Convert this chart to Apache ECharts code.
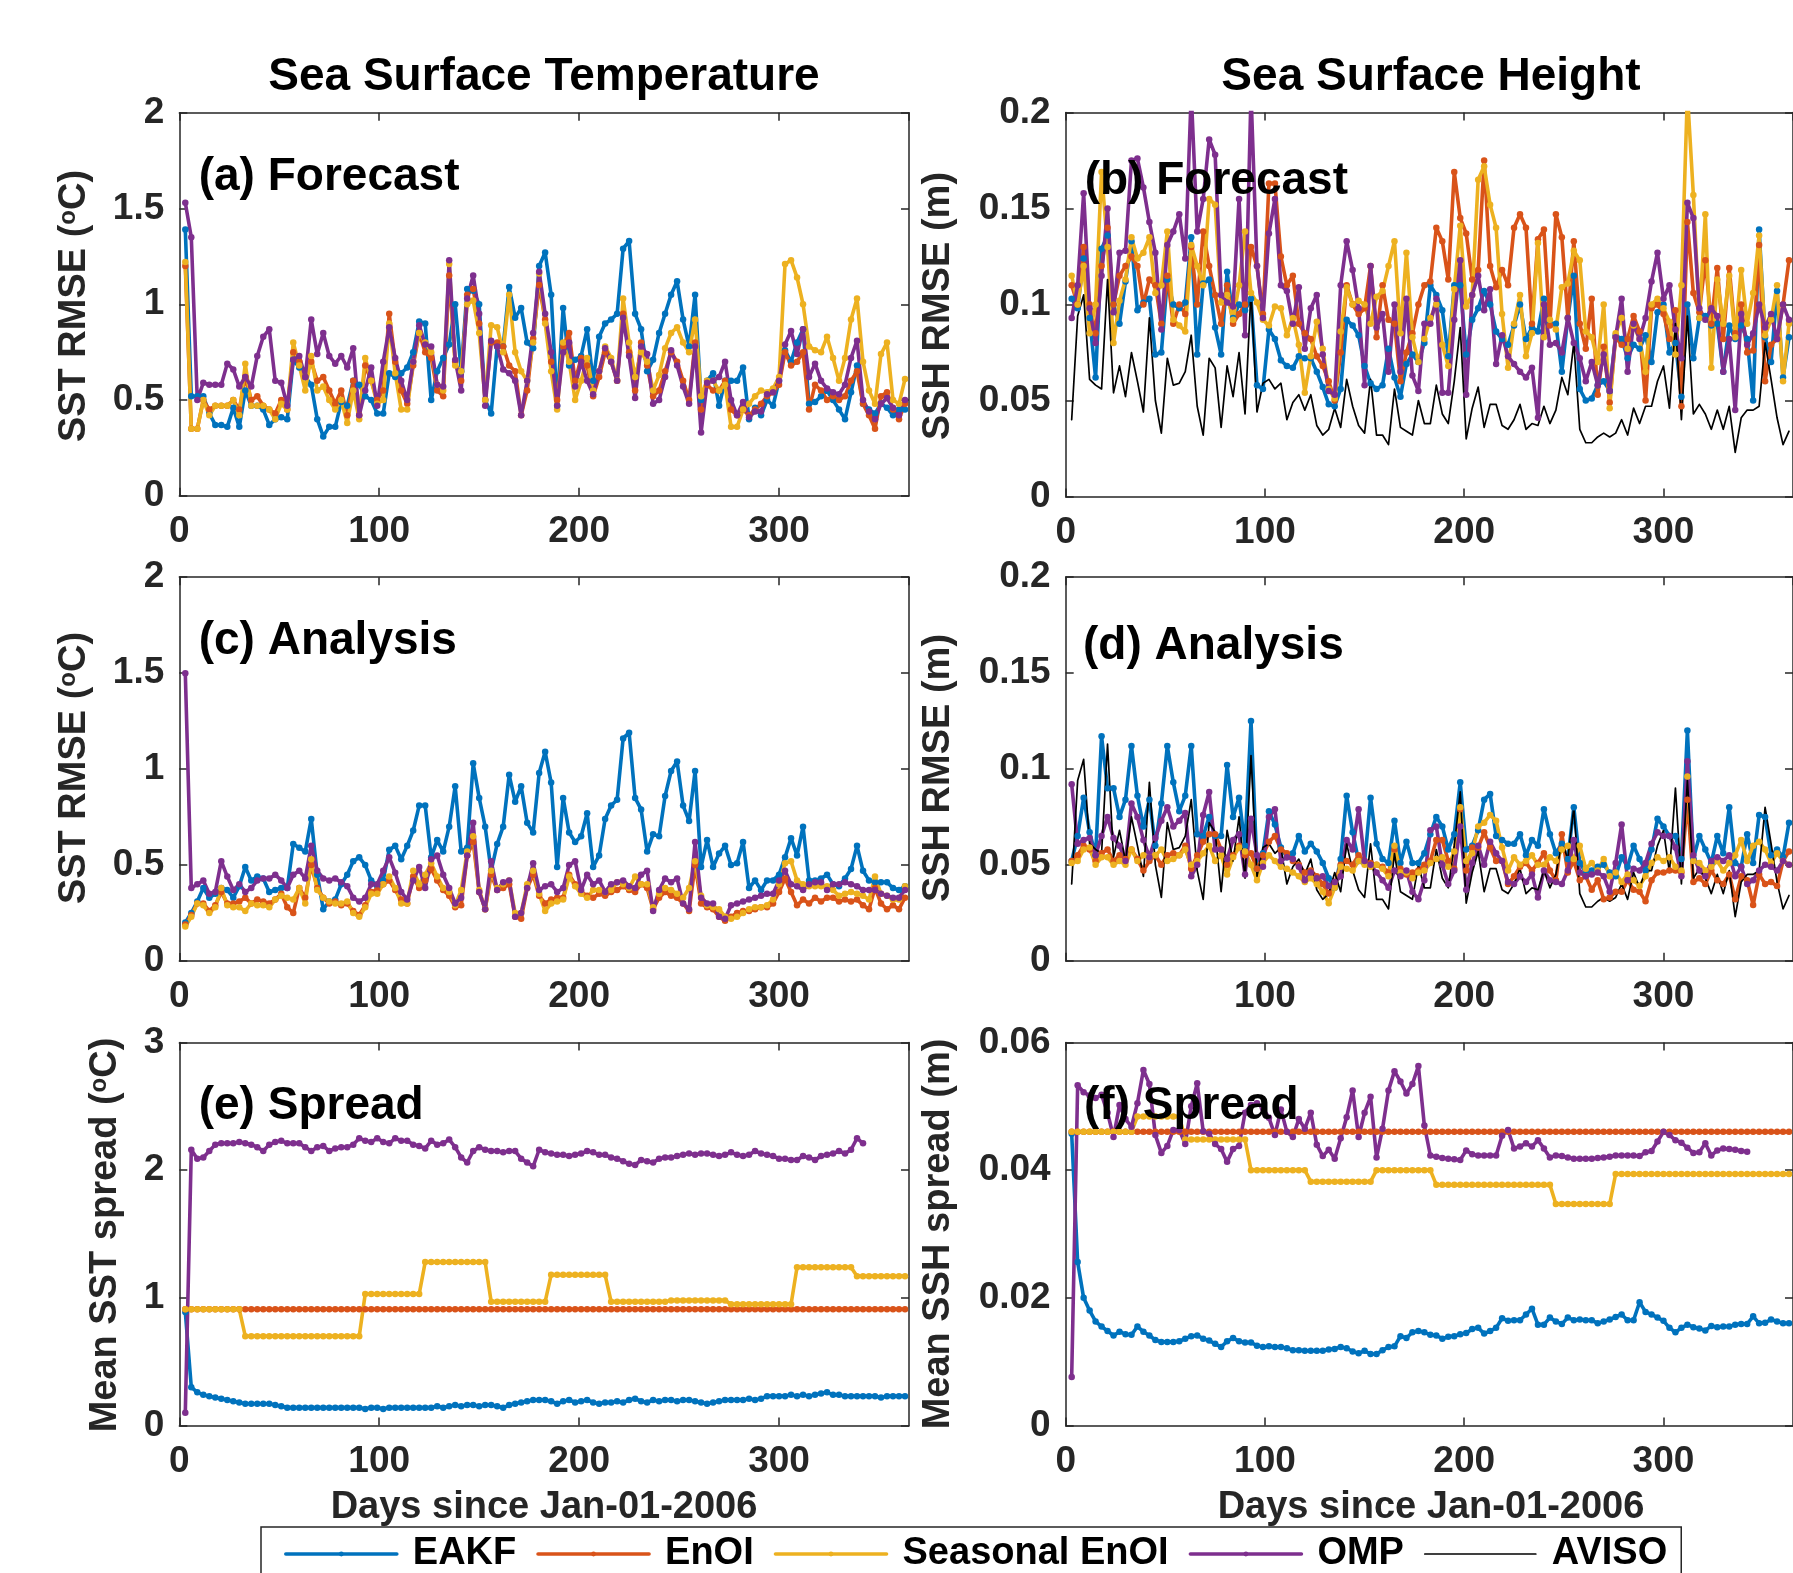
<!DOCTYPE html>
<html><head><meta charset="utf-8">
<script src="https://cdn.jsdelivr.net/npm/echarts@6.0.0/dist/echarts.min.js"></script>
<style>html,body{margin:0;padding:0;background:#fff}#c{width:1793px;height:1573px}</style>
</head><body><div id="c"></div>
<script>
// ---------------- DATA ----------------
const days = [3,6,9,12,15,18,21,24,27,30,33,36,39,42,45,48,51,54,57,60,
63,66,69,72,75,78,81,84,87,90,93,96,99,102,105,108,111,114,117,120,
123,126,129,132,135,138,141,144,147,150,153,156,159,162,165,168,171,174,177,180,
183,186,189,192,195,198,201,204,207,210,213,216,219,222,225,228,231,234,237,240,
243,246,249,252,255,258,261,264,267,270,273,276,279,282,285,288,291,294,297,300,
303,306,309,312,315,318,321,324,327,330,333,336,339,342,345,348,351,354,357,360,
363];
const seriesNames = ['EAKF','EnOI','Seasonal EnOI','OMP','AVISO'];

// (a) SST forecast RMSE
const a_eakf = [1.39,0.52,0.52,0.52,0.43,0.37,0.37,0.36,0.46,0.36,0.55,0.47,0.47,0.45,0.37,0.40,0.41,0.40,0.71,0.67,
0.62,0.58,0.40,0.31,0.36,0.36,0.49,0.47,0.60,0.58,0.52,0.50,0.43,0.43,0.64,0.62,0.64,0.67,0.75,0.91,
0.90,0.50,0.65,0.72,0.79,1.00,0.65,1.08,1.07,1.00,0.50,0.43,0.78,0.78,1.09,0.93,0.98,0.80,0.77,1.20,
1.27,1.05,0.47,0.98,0.68,0.71,0.73,0.87,0.60,0.83,0.90,0.92,0.95,1.29,1.33,0.95,0.87,0.65,0.71,0.85,
0.95,1.05,1.12,0.92,0.78,1.05,0.50,0.60,0.64,0.47,0.60,0.60,0.60,0.67,0.40,0.46,0.42,0.50,0.47,0.60,
0.76,0.70,0.80,0.87,0.48,0.49,0.52,0.55,0.50,0.45,0.40,0.54,0.68,0.48,0.45,0.43,0.48,0.46,0.42,0.45,
0.45];
const a_enoi = [1.20,0.35,0.35,0.50,0.45,0.47,0.47,0.47,0.50,0.45,0.62,0.50,0.52,0.47,0.45,0.43,0.50,0.45,0.75,0.70,
0.62,0.70,0.60,0.62,0.55,0.48,0.55,0.42,0.60,0.42,0.68,0.60,0.50,0.55,0.95,0.70,0.55,0.48,0.68,0.85,
0.75,0.72,0.55,0.52,1.15,0.70,0.60,1.05,1.08,0.90,0.50,0.80,0.80,0.78,0.68,0.65,0.42,0.55,0.82,1.10,
0.92,0.70,0.50,0.78,0.85,0.60,0.72,0.68,0.52,0.62,0.75,0.70,0.60,0.95,0.75,0.55,0.80,0.68,0.52,0.55,
0.65,0.75,0.70,0.60,0.50,0.80,0.45,0.58,0.55,0.55,0.60,0.45,0.42,0.45,0.42,0.45,0.48,0.52,0.54,0.58,
0.75,0.68,0.70,0.75,0.45,0.58,0.55,0.50,0.52,0.50,0.52,0.60,0.65,0.48,0.42,0.35,0.52,0.54,0.45,0.40,
0.48];
const a_seas = [1.22,0.35,0.35,0.50,0.42,0.47,0.47,0.47,0.50,0.42,0.69,0.47,0.47,0.47,0.45,0.40,0.48,0.45,0.80,0.68,
0.55,0.73,0.55,0.57,0.50,0.45,0.50,0.38,0.55,0.40,0.72,0.60,0.48,0.50,0.90,0.64,0.45,0.45,0.70,0.85,
0.80,0.75,0.58,0.55,1.21,0.68,0.65,1.00,1.02,0.85,0.50,0.89,0.88,0.75,1.05,0.75,0.65,0.60,0.80,1.16,
0.90,0.65,0.45,0.80,0.70,0.50,0.60,0.72,0.55,0.65,0.78,0.72,0.60,1.03,0.80,0.62,0.75,0.70,0.55,0.63,
0.77,0.85,0.88,0.80,0.75,0.92,0.52,0.60,0.60,0.55,0.58,0.36,0.36,0.45,0.48,0.52,0.55,0.54,0.56,0.62,
1.21,1.23,1.14,1.00,0.78,0.76,0.75,0.83,0.72,0.60,0.72,0.92,1.03,0.70,0.55,0.48,0.74,0.80,0.50,0.48,
0.61];
const a_omp = [1.53,1.35,0.50,0.59,0.58,0.58,0.58,0.69,0.66,0.57,0.62,0.57,0.73,0.83,0.87,0.60,0.59,0.47,0.71,0.73,
0.62,0.92,0.74,0.85,0.73,0.69,0.73,0.67,0.77,0.42,0.55,0.67,0.47,0.70,0.88,0.72,0.60,0.50,0.70,0.89,
0.79,0.78,0.58,0.57,1.23,0.71,0.55,1.03,1.15,0.95,0.47,0.81,0.78,0.66,0.64,0.60,0.42,0.60,0.85,1.17,
0.95,0.75,0.47,0.75,0.80,0.57,0.70,0.60,0.53,0.65,0.77,0.70,0.60,0.93,0.73,0.51,0.78,0.74,0.48,0.50,
0.62,0.76,0.68,0.57,0.48,0.78,0.33,0.59,0.60,0.62,0.70,0.50,0.42,0.49,0.41,0.44,0.44,0.53,0.54,0.60,
0.79,0.86,0.74,0.87,0.62,0.69,0.60,0.56,0.54,0.53,0.58,0.72,0.81,0.50,0.44,0.40,0.48,0.51,0.46,0.42,
0.50];

// (c) SST analysis RMSE
const c_eakf = [0.20,0.25,0.31,0.38,0.33,0.35,0.38,0.37,0.33,0.39,0.49,0.42,0.44,0.43,0.36,0.37,0.38,0.38,0.61,0.59,
0.57,0.74,0.45,0.27,0.31,0.32,0.40,0.45,0.52,0.54,0.50,0.42,0.39,0.42,0.58,0.60,0.53,0.60,0.68,0.81,
0.81,0.54,0.63,0.57,0.70,0.91,0.57,0.59,1.03,0.85,0.70,0.47,0.61,0.70,0.97,0.83,0.91,0.72,0.67,0.98,
1.09,0.93,0.49,0.85,0.67,0.62,0.65,0.77,0.49,0.55,0.74,0.81,0.84,1.16,1.19,0.85,0.79,0.57,0.66,0.65,
0.86,0.99,1.04,0.81,0.73,0.99,0.49,0.63,0.49,0.56,0.60,0.50,0.51,0.62,0.38,0.42,0.37,0.42,0.42,0.45,
0.54,0.64,0.55,0.70,0.42,0.42,0.43,0.45,0.40,0.39,0.43,0.48,0.60,0.47,0.42,0.41,0.41,0.41,0.38,0.37,
0.39];
const c_enoi = [0.19,0.24,0.30,0.30,0.26,0.29,0.36,0.30,0.30,0.31,0.33,0.30,0.32,0.31,0.30,0.32,0.35,0.28,0.25,0.38,
0.33,0.50,0.38,0.33,0.30,0.31,0.29,0.30,0.26,0.24,0.29,0.36,0.37,0.40,0.42,0.37,0.32,0.30,0.44,0.38,
0.42,0.48,0.42,0.37,0.34,0.28,0.29,0.55,0.62,0.36,0.27,0.45,0.37,0.38,0.40,0.23,0.22,0.38,0.45,0.34,
0.30,0.32,0.33,0.33,0.45,0.40,0.36,0.34,0.33,0.35,0.34,0.36,0.37,0.39,0.37,0.36,0.40,0.38,0.27,0.33,
0.36,0.34,0.33,0.30,0.26,0.50,0.30,0.28,0.27,0.23,0.21,0.23,0.25,0.26,0.26,0.27,0.28,0.28,0.30,0.36,
0.43,0.36,0.29,0.32,0.30,0.33,0.31,0.33,0.33,0.31,0.32,0.31,0.32,0.29,0.27,0.38,0.30,0.27,0.29,0.27,
0.33];
const c_seas = [0.18,0.23,0.30,0.29,0.25,0.28,0.38,0.29,0.28,0.28,0.26,0.30,0.29,0.29,0.28,0.32,0.34,0.33,0.32,0.38,
0.30,0.53,0.37,0.33,0.31,0.30,0.30,0.31,0.25,0.23,0.28,0.35,0.35,0.40,0.44,0.38,0.30,0.30,0.47,0.40,
0.45,0.51,0.44,0.38,0.36,0.29,0.37,0.57,0.65,0.37,0.27,0.47,0.38,0.40,0.42,0.25,0.25,0.40,0.47,0.35,
0.26,0.30,0.31,0.32,0.44,0.39,0.35,0.33,0.37,0.37,0.36,0.37,0.41,0.40,0.38,0.44,0.40,0.40,0.28,0.35,
0.38,0.37,0.35,0.33,0.38,0.52,0.34,0.29,0.28,0.27,0.23,0.22,0.23,0.25,0.27,0.28,0.28,0.29,0.32,0.40,
0.51,0.52,0.42,0.40,0.39,0.39,0.39,0.39,0.37,0.34,0.35,0.36,0.35,0.34,0.32,0.44,0.35,0.34,0.32,0.32,
0.39];
const c_omp = [1.50,0.38,0.40,0.42,0.35,0.36,0.52,0.44,0.37,0.40,0.36,0.38,0.42,0.43,0.43,0.45,0.42,0.38,0.45,0.47,
0.43,0.60,0.47,0.43,0.42,0.43,0.41,0.39,0.33,0.31,0.33,0.40,0.40,0.47,0.54,0.46,0.36,0.32,0.42,0.49,
0.38,0.53,0.55,0.45,0.38,0.30,0.33,0.55,0.72,0.36,0.27,0.52,0.37,0.41,0.42,0.23,0.25,0.38,0.51,0.37,
0.39,0.40,0.36,0.38,0.50,0.52,0.37,0.45,0.40,0.42,0.36,0.40,0.41,0.42,0.39,0.38,0.45,0.47,0.26,0.37,
0.43,0.41,0.43,0.30,0.27,0.62,0.33,0.30,0.30,0.23,0.22,0.29,0.30,0.31,0.32,0.33,0.34,0.35,0.35,0.42,
0.47,0.40,0.39,0.37,0.40,0.41,0.41,0.37,0.40,0.40,0.41,0.40,0.39,0.37,0.37,0.37,0.35,0.34,0.33,0.33,
0.37];

// (b) SSH forecast RMSE
const b_eakf = [0.103,0.098,0.124,0.093,0.062,0.129,0.136,0.100,0.090,0.112,0.133,0.097,0.101,0.103,0.074,0.075,0.113,0.100,0.098,0.101,
0.135,0.074,0.111,0.113,0.088,0.074,0.117,0.093,0.100,0.097,0.103,0.058,0.056,0.087,0.082,0.071,0.068,0.067,0.073,0.072,
0.072,0.065,0.057,0.048,0.047,0.056,0.092,0.089,0.084,0.068,0.059,0.056,0.058,0.077,0.062,0.052,0.069,0.074,0.070,0.080,
0.110,0.105,0.097,0.073,0.110,0.110,0.074,0.092,0.098,0.107,0.100,0.086,0.082,0.079,0.089,0.100,0.082,0.088,0.086,0.103,
0.090,0.090,0.065,0.093,0.115,0.056,0.050,0.051,0.058,0.060,0.055,0.084,0.082,0.072,0.079,0.077,0.084,0.070,0.096,0.100,
0.075,0.080,0.052,0.100,0.072,0.093,0.094,0.089,0.090,0.065,0.089,0.082,0.089,0.082,0.050,0.139,0.083,0.070,0.107,0.062,
0.083];
const b_enoi = [0.110,0.100,0.130,0.100,0.085,0.120,0.140,0.100,0.115,0.120,0.125,0.120,0.100,0.113,0.110,0.090,0.115,0.090,0.100,0.095,
0.130,0.100,0.138,0.120,0.105,0.090,0.110,0.090,0.095,0.100,0.130,0.120,0.095,0.163,0.163,0.125,0.110,0.115,0.090,0.085,
0.082,0.073,0.068,0.060,0.050,0.075,0.110,0.100,0.095,0.098,0.120,0.083,0.110,0.092,0.090,0.060,0.075,0.085,0.100,0.110,
0.112,0.140,0.133,0.113,0.169,0.145,0.137,0.113,0.118,0.175,0.120,0.109,0.118,0.110,0.140,0.147,0.140,0.090,0.134,0.139,
0.089,0.147,0.135,0.093,0.133,0.090,0.077,0.103,0.053,0.078,0.049,0.083,0.079,0.082,0.094,0.086,0.050,0.098,0.100,0.095,
0.082,0.097,0.047,0.143,0.106,0.096,0.123,0.090,0.119,0.082,0.119,0.085,0.100,0.075,0.076,0.131,0.060,0.079,0.082,0.100,
0.123];
const b_seas = [0.115,0.100,0.120,0.085,0.100,0.169,0.130,0.080,0.102,0.113,0.135,0.124,0.127,0.135,0.106,0.110,0.138,0.092,0.089,0.086,
0.131,0.120,0.110,0.155,0.152,0.101,0.105,0.092,0.110,0.138,0.106,0.101,0.092,0.089,0.099,0.098,0.084,0.093,0.079,0.054,
0.073,0.091,0.077,0.056,0.051,0.086,0.109,0.100,0.102,0.100,0.090,0.104,0.107,0.120,0.133,0.085,0.127,0.083,0.070,0.082,
0.093,0.100,0.079,0.068,0.108,0.141,0.099,0.105,0.165,0.172,0.152,0.140,0.095,0.067,0.090,0.105,0.073,0.085,0.132,0.083,
0.092,0.087,0.109,0.111,0.128,0.123,0.086,0.083,0.070,0.100,0.046,0.085,0.093,0.077,0.089,0.082,0.065,0.100,0.103,0.098,
0.091,0.074,0.110,0.210,0.157,0.093,0.147,0.067,0.113,0.090,0.115,0.083,0.118,0.090,0.106,0.136,0.084,0.092,0.110,0.060,
0.090];
const b_omp = [0.093,0.110,0.158,0.098,0.080,0.115,0.150,0.096,0.127,0.128,0.175,0.176,0.161,0.143,0.127,0.087,0.131,0.138,0.147,0.124,
0.210,0.138,0.155,0.186,0.178,0.105,0.101,0.099,0.155,0.084,0.210,0.120,0.093,0.137,0.155,0.110,0.107,0.090,0.109,0.077,
0.098,0.105,0.074,0.055,0.053,0.110,0.133,0.118,0.098,0.058,0.120,0.088,0.095,0.065,0.100,0.065,0.103,0.063,0.055,0.090,
0.090,0.103,0.054,0.054,0.092,0.123,0.053,0.105,0.115,0.097,0.108,0.069,0.084,0.073,0.069,0.065,0.062,0.067,0.041,0.100,
0.079,0.080,0.075,0.093,0.080,0.072,0.060,0.070,0.058,0.074,0.055,0.083,0.103,0.065,0.090,0.082,0.093,0.112,0.127,0.103,
0.110,0.087,0.072,0.153,0.145,0.098,0.092,0.098,0.094,0.065,0.082,0.045,0.095,0.079,0.085,0.100,0.088,0.095,0.082,0.100,
0.092];
// AVISO error (same in b and d)
const aviso = [0.040,0.094,0.105,0.061,0.058,0.056,0.113,0.054,0.068,0.052,0.075,0.060,0.044,0.093,0.050,0.033,0.072,0.058,0.059,0.065,
0.084,0.047,0.032,0.072,0.067,0.036,0.068,0.052,0.075,0.043,0.107,0.044,0.059,0.061,0.056,0.059,0.040,0.049,0.053,0.045,
0.053,0.037,0.032,0.035,0.046,0.036,0.061,0.047,0.037,0.033,0.061,0.032,0.032,0.027,0.056,0.036,0.034,0.032,0.050,0.038,
0.038,0.058,0.043,0.038,0.060,0.088,0.030,0.046,0.057,0.036,0.048,0.048,0.037,0.035,0.040,0.048,0.035,0.038,0.037,0.047,
0.038,0.045,0.062,0.053,0.080,0.035,0.028,0.028,0.031,0.033,0.031,0.033,0.040,0.032,0.046,0.038,0.047,0.047,0.060,0.068,
0.046,0.090,0.040,0.094,0.043,0.048,0.043,0.035,0.045,0.035,0.047,0.023,0.041,0.045,0.045,0.047,0.080,0.061,0.041,0.027,
0.034];

// (d) SSH analysis RMSE
const d_eakf = [0.052,0.065,0.085,0.067,0.055,0.117,0.090,0.090,0.075,0.084,0.112,0.086,0.070,0.084,0.060,0.082,0.112,0.093,0.078,0.086,
0.112,0.066,0.065,0.075,0.065,0.065,0.102,0.075,0.085,0.060,0.125,0.048,0.056,0.078,0.071,0.059,0.054,0.056,0.065,0.057,
0.061,0.057,0.051,0.043,0.038,0.053,0.086,0.067,0.052,0.051,0.085,0.061,0.053,0.051,0.073,0.051,0.062,0.051,0.051,0.056,
0.066,0.075,0.070,0.058,0.066,0.093,0.058,0.060,0.068,0.084,0.087,0.065,0.063,0.061,0.061,0.066,0.055,0.063,0.060,0.079,
0.066,0.056,0.061,0.053,0.080,0.051,0.046,0.047,0.049,0.050,0.046,0.044,0.054,0.049,0.060,0.053,0.047,0.058,0.074,0.070,
0.065,0.065,0.053,0.120,0.053,0.065,0.058,0.051,0.065,0.056,0.080,0.051,0.049,0.066,0.051,0.076,0.075,0.055,0.058,0.054,
0.072];
const d_enoi = [0.052,0.055,0.060,0.058,0.052,0.056,0.058,0.052,0.055,0.053,0.058,0.053,0.047,0.052,0.055,0.050,0.055,0.056,0.055,0.060,
0.048,0.055,0.062,0.066,0.066,0.058,0.050,0.055,0.060,0.055,0.056,0.048,0.055,0.062,0.065,0.058,0.056,0.052,0.050,0.046,
0.047,0.044,0.040,0.035,0.040,0.050,0.052,0.050,0.055,0.052,0.051,0.050,0.049,0.046,0.058,0.048,0.045,0.046,0.047,0.050,
0.052,0.063,0.063,0.052,0.048,0.079,0.047,0.059,0.059,0.067,0.059,0.052,0.052,0.040,0.044,0.049,0.051,0.047,0.051,0.056,
0.047,0.042,0.066,0.046,0.052,0.042,0.044,0.037,0.042,0.032,0.033,0.036,0.036,0.042,0.037,0.036,0.031,0.042,0.046,0.046,
0.047,0.047,0.046,0.084,0.041,0.043,0.040,0.047,0.042,0.040,0.045,0.032,0.044,0.042,0.029,0.045,0.040,0.041,0.039,0.052,
0.057];
const d_seas = [0.051,0.052,0.058,0.059,0.050,0.054,0.054,0.050,0.052,0.050,0.058,0.052,0.055,0.054,0.055,0.058,0.052,0.053,0.055,0.058,
0.050,0.052,0.056,0.060,0.052,0.055,0.045,0.054,0.059,0.057,0.050,0.042,0.051,0.055,0.052,0.049,0.048,0.046,0.044,0.041,
0.043,0.040,0.036,0.030,0.038,0.049,0.048,0.047,0.052,0.050,0.049,0.050,0.048,0.044,0.060,0.046,0.046,0.043,0.046,0.047,
0.051,0.053,0.054,0.049,0.057,0.080,0.052,0.056,0.070,0.072,0.076,0.073,0.059,0.047,0.054,0.050,0.052,0.055,0.050,0.050,
0.054,0.052,0.058,0.060,0.053,0.060,0.048,0.051,0.047,0.053,0.044,0.046,0.041,0.045,0.042,0.039,0.044,0.051,0.054,0.052,
0.054,0.049,0.047,0.096,0.052,0.051,0.047,0.049,0.052,0.047,0.051,0.055,0.063,0.052,0.060,0.062,0.058,0.051,0.056,0.052,
0.050];
const d_omp = [0.092,0.061,0.063,0.064,0.055,0.065,0.075,0.064,0.060,0.052,0.082,0.075,0.063,0.054,0.064,0.073,0.080,0.070,0.073,0.077,
0.044,0.050,0.076,0.088,0.058,0.058,0.053,0.063,0.066,0.045,0.074,0.055,0.049,0.075,0.079,0.052,0.054,0.053,0.049,0.042,
0.046,0.043,0.044,0.039,0.041,0.044,0.063,0.058,0.079,0.052,0.050,0.046,0.042,0.038,0.047,0.044,0.047,0.036,0.032,0.042,
0.068,0.070,0.050,0.040,0.047,0.070,0.037,0.051,0.060,0.050,0.062,0.056,0.052,0.041,0.040,0.044,0.041,0.045,0.033,0.047,
0.042,0.041,0.040,0.047,0.063,0.046,0.044,0.045,0.046,0.044,0.036,0.051,0.071,0.042,0.048,0.047,0.051,0.061,0.067,0.065,
0.065,0.059,0.044,0.104,0.055,0.047,0.044,0.052,0.054,0.052,0.055,0.044,0.049,0.040,0.042,0.047,0.050,0.049,0.047,0.052,
0.050];

// (e) mean SST spread
const e_eakf = [0.89,0.30,0.26,0.24,0.23,0.22,0.21,0.20,0.19,0.18,0.17,0.17,0.17,0.17,0.17,0.16,0.15,0.14,0.14,0.14,
0.14,0.14,0.14,0.14,0.14,0.14,0.14,0.14,0.14,0.14,0.13,0.14,0.14,0.13,0.14,0.14,0.14,0.14,0.14,0.14,
0.14,0.14,0.15,0.14,0.15,0.16,0.15,0.16,0.16,0.15,0.16,0.16,0.15,0.14,0.16,0.17,0.18,0.19,0.20,0.20,
0.20,0.19,0.17,0.19,0.20,0.18,0.19,0.20,0.18,0.17,0.18,0.18,0.19,0.18,0.20,0.21,0.19,0.18,0.20,0.19,
0.20,0.20,0.19,0.20,0.20,0.19,0.18,0.17,0.18,0.19,0.20,0.20,0.20,0.20,0.21,0.20,0.21,0.23,0.23,0.23,
0.23,0.24,0.23,0.24,0.23,0.24,0.25,0.26,0.24,0.24,0.23,0.23,0.23,0.23,0.23,0.23,0.22,0.23,0.23,0.23,
0.23];
const e_enoi = [0.91,0.91,0.91,0.91,0.91,0.91,0.91,0.91,0.91,0.91,0.91,0.91,0.91,0.91,0.91,0.91,0.91,0.91,0.91,0.91,
0.91,0.91,0.91,0.91,0.91,0.91,0.91,0.91,0.91,0.91,0.91,0.91,0.91,0.91,0.91,0.91,0.91,0.91,0.91,0.91,
0.91,0.91,0.91,0.91,0.91,0.91,0.91,0.91,0.91,0.91,0.91,0.91,0.91,0.91,0.91,0.91,0.91,0.91,0.91,0.91,
0.91,0.91,0.91,0.91,0.91,0.91,0.91,0.91,0.91,0.91,0.91,0.91,0.91,0.91,0.91,0.91,0.91,0.91,0.91,0.91,
0.91,0.91,0.91,0.91,0.91,0.91,0.91,0.91,0.91,0.91,0.91,0.91,0.91,0.91,0.91,0.91,0.91,0.91,0.91,0.91,
0.91,0.91,0.91,0.91,0.91,0.91,0.91,0.91,0.91,0.91,0.91,0.91,0.91,0.91,0.91,0.91,0.91,0.91,0.91,0.91,
0.91];
const e_seas = [0.91,0.91,0.91,0.91,0.91,0.91,0.91,0.91,0.91,0.91,0.70,0.70,0.70,0.70,0.70,0.70,0.70,0.70,0.70,0.70,
0.70,0.70,0.70,0.70,0.70,0.70,0.70,0.70,0.70,0.70,1.03,1.03,1.03,1.03,1.03,1.03,1.03,1.03,1.03,1.03,
1.28,1.28,1.28,1.28,1.28,1.28,1.28,1.28,1.28,1.28,1.28,0.97,0.97,0.97,0.97,0.97,0.97,0.97,0.97,0.97,
0.97,1.18,1.18,1.18,1.18,1.18,1.18,1.18,1.18,1.18,1.18,0.97,0.97,0.97,0.97,0.97,0.97,0.97,0.97,0.97,
0.97,0.98,0.98,0.98,0.98,0.98,0.98,0.98,0.98,0.98,0.98,0.95,0.95,0.95,0.95,0.95,0.95,0.95,0.95,0.95,
0.95,0.95,1.24,1.24,1.24,1.24,1.24,1.24,1.24,1.24,1.24,1.24,1.17,1.17,1.17,1.17,1.17,1.17,1.17,1.17,
1.17];
const e_omp = [0.10,2.16,2.09,2.10,2.15,2.20,2.21,2.21,2.21,2.22,2.21,2.20,2.18,2.15,2.20,2.22,2.23,2.21,2.21,2.21,
2.18,2.15,2.18,2.19,2.15,2.17,2.18,2.18,2.20,2.25,2.23,2.22,2.25,2.22,2.21,2.25,2.23,2.23,2.20,2.19,
2.17,2.23,2.20,2.21,2.24,2.18,2.10,2.06,2.15,2.18,2.16,2.15,2.15,2.14,2.15,2.15,2.09,2.06,2.03,2.16,
2.14,2.13,2.12,2.12,2.11,2.12,2.13,2.15,2.14,2.12,2.12,2.10,2.09,2.07,2.05,2.04,2.08,2.07,2.06,2.09,
2.10,2.10,2.11,2.12,2.13,2.12,2.13,2.13,2.12,2.11,2.12,2.14,2.12,2.11,2.12,2.15,2.13,2.12,2.11,2.09,
2.09,2.08,2.08,2.11,2.10,2.08,2.11,2.12,2.13,2.15,2.13,2.16,2.25,2.21];

// (f) mean SSH spread
const f_eakf = [0.0457,0.0256,0.0200,0.0180,0.0163,0.0155,0.0148,0.0141,0.0147,0.0143,0.0142,0.0155,0.0147,0.0141,0.0134,0.0131,0.0131,0.0131,0.0132,0.0136,
0.0140,0.0141,0.0136,0.0133,0.0128,0.0123,0.0132,0.0137,0.0132,0.0130,0.0130,0.0125,0.0123,0.0124,0.0123,0.0123,0.0121,0.0118,0.0118,0.0117,
0.0117,0.0117,0.0117,0.0119,0.0120,0.0123,0.0121,0.0116,0.0113,0.0117,0.0112,0.0112,0.0118,0.0123,0.0124,0.0140,0.0137,0.0146,0.0148,0.0146,
0.0142,0.0141,0.0136,0.0139,0.0140,0.0143,0.0145,0.0151,0.0153,0.0144,0.0148,0.0153,0.0168,0.0164,0.0165,0.0165,0.0174,0.0183,0.0158,0.0158,
0.0169,0.0163,0.0159,0.0169,0.0165,0.0166,0.0165,0.0165,0.0160,0.0163,0.0166,0.0170,0.0174,0.0165,0.0165,0.0193,0.0178,0.0174,0.0169,0.0164,
0.0153,0.0146,0.0153,0.0158,0.0154,0.0152,0.0149,0.0156,0.0154,0.0155,0.0155,0.0158,0.0159,0.0159,0.0171,0.0160,0.0161,0.0166,0.0163,0.0160,
0.0160];
const f_enoi = [0.046,0.046,0.046,0.046,0.046,0.046,0.046,0.046,0.046,0.046,0.046,0.046,0.046,0.046,0.046,0.046,0.046,0.046,0.046,0.046,
0.046,0.046,0.046,0.046,0.046,0.046,0.046,0.046,0.046,0.046,0.046,0.046,0.046,0.046,0.046,0.046,0.046,0.046,0.046,0.046,
0.046,0.046,0.046,0.046,0.046,0.046,0.046,0.046,0.046,0.046,0.046,0.046,0.046,0.046,0.046,0.046,0.046,0.046,0.046,0.046,
0.046,0.046,0.046,0.046,0.046,0.046,0.046,0.046,0.046,0.046,0.046,0.046,0.046,0.046,0.046,0.046,0.046,0.046,0.046,0.046,
0.046,0.046,0.046,0.046,0.046,0.046,0.046,0.046,0.046,0.046,0.046,0.046,0.046,0.046,0.046,0.046,0.046,0.046,0.046,0.046,
0.046,0.046,0.046,0.046,0.046,0.046,0.046,0.046,0.046,0.046,0.046,0.046,0.046,0.046,0.046,0.046,0.046,0.046,0.046,0.046,
0.046];
const f_seas = [0.046,0.046,0.046,0.046,0.046,0.046,0.046,0.046,0.046,0.046,0.046,0.0484,0.0484,0.0484,0.0484,0.0484,0.0484,0.0484,0.0484,0.0448,
0.0448,0.0448,0.0448,0.0448,0.0448,0.0448,0.0448,0.0448,0.0448,0.0448,0.040,0.040,0.040,0.040,0.040,0.040,0.040,0.040,0.040,0.040,
0.0382,0.0382,0.0382,0.0382,0.0382,0.0382,0.0382,0.0382,0.0382,0.0382,0.0382,0.040,0.040,0.040,0.040,0.040,0.040,0.040,0.040,0.040,
0.040,0.0377,0.0377,0.0377,0.0377,0.0377,0.0377,0.0377,0.0377,0.0377,0.0377,0.0377,0.0377,0.0377,0.0377,0.0377,0.0377,0.0377,0.0377,0.0377,
0.0377,0.0347,0.0347,0.0347,0.0347,0.0347,0.0347,0.0347,0.0347,0.0347,0.0347,0.0394,0.0394,0.0394,0.0394,0.0394,0.0394,0.0394,0.0394,0.0394,
0.0394,0.0394,0.0394,0.0394,0.0394,0.0394,0.0394,0.0394,0.0394,0.0394,0.0394,0.0394,0.0394,0.0394,0.0394,0.0394,0.0394,0.0394,0.0394,0.0394,
0.0394];
const f_omp = [0.0076,0.0533,0.0522,0.0517,0.0513,0.0518,0.0490,0.0452,0.0502,0.0480,0.0468,0.0505,0.0557,0.0535,0.0455,0.0427,0.0438,0.0463,0.0463,0.0441,
0.0500,0.0536,0.0461,0.0457,0.0441,0.0433,0.0413,0.0433,0.0438,0.0490,0.0502,0.0505,0.0497,0.0482,0.0455,0.0495,0.0460,0.0452,0.0480,0.0465,
0.0490,0.0440,0.0422,0.0432,0.0418,0.0450,0.0483,0.0525,0.0452,0.0490,0.0515,0.0420,0.0465,0.0525,0.0555,0.0539,0.0520,0.0535,0.0563,0.0470,
0.0423,0.0421,0.0419,0.0418,0.0417,0.0416,0.0431,0.0425,0.0423,0.0423,0.0423,0.0423,0.0454,0.0463,0.0434,0.0437,0.0442,0.0437,0.0447,0.0434,
0.0420,0.0423,0.0422,0.0420,0.0418,0.0418,0.0418,0.0418,0.0419,0.0420,0.0421,0.0423,0.0423,0.0423,0.0423,0.0422,0.0428,0.0430,0.0445,0.0460,
0.0455,0.0447,0.0443,0.0435,0.0427,0.0428,0.0442,0.0423,0.0431,0.0434,0.0433,0.0432,0.0430,0.0429];

// ---------------- STYLE / LAYOUT ----------------
const FONT = "'Liberation Sans', Arial, Helvetica, sans-serif";
const COLORS = {'EAKF':'#0072BD','EnOI':'#D95319','Seasonal EnOI':'#EDB120','OMP':'#7E2F8E','AVISO':'#000000'};
const AX = '#262626';
const LW = 3.6, OBSW = 1.7;
const grids = [
  {left:179.3, top:112.7, width:729.7, height:383.1},
  {left:1065.7, top:112.5, width:730, height:384},
  {left:179.3, top:577.2, width:729.7, height:383.8},
  {left:1065.7, top:577.2, width:730, height:383.5},
  {left:179.3, top:1042.5, width:729.7, height:383},
  {left:1065.7, top:1042.5, width:730, height:383}
];
const yRanges = [[0,2,0.5],[0,0.2,0.05],[0,2,0.5],[0,0.2,0.05],[0,3,1],[0,0.06,0.02]];

const xAxes = [], yAxes = [];
grids.forEach((g, gi) => {
  const common = {gridIndex: gi, type:'value', min:0, max:365, interval:100,
    axisLine:{show:true, onZero:false, lineStyle:{color:AX, width:1.5}},
    axisTick:{show:true, inside:true, length:8, lineStyle:{color:AX, width:1.5}},
    splitLine:{show:false}};
  xAxes.push(Object.assign({}, common, {position:'bottom',
    axisLabel:{show:true, margin:17.5, fontSize:37, fontWeight:'bold', fontFamily:FONT, color:AX,
      showMaxLabel:false, formatter: v => (gi === 3 && v === 0) ? '' : String(v)}}));
  xAxes.push(Object.assign({}, common, {position:'top', axisLabel:{show:false}}));
  const r = yRanges[gi];
  const yc = {gridIndex: gi, type:'value', min:r[0], max:r[1], interval:r[2],
    axisLine:{show:true, onZero:false, lineStyle:{color:AX, width:1.5}},
    axisTick:{show:true, inside:true, length:8, lineStyle:{color:AX, width:1.5}},
    splitLine:{show:false}};
  yAxes.push(Object.assign({}, yc, {position:'left',
    axisLabel:{show:true, margin:15, fontSize:37, fontWeight:'bold', fontFamily:FONT, color:AX}}));
  yAxes.push(Object.assign({}, yc, {position:'right', axisLabel:{show:false}}));
});

function mk(name, vals, gi) {
  const col = COLORS[name];
  const isObs = name === 'AVISO';
  return {
    type:'line', name, xAxisIndex: 2*gi, yAxisIndex: 2*gi,
    data: vals.map((v, i) => [days[i], v]),
    symbol: isObs ? 'none' : 'circle', symbolSize: 6.5,
    showSymbol: !isObs,
    lineStyle:{color: col, width: isObs ? OBSW : LW, join:'round', cap:'round'},
    itemStyle:{color: col},
    clip: true, silent: true, animation: false,
    emphasis:{disabled:true}
  };
}

const series = [
  mk('EAKF', a_eakf, 0), mk('EnOI', a_enoi, 0), mk('Seasonal EnOI', a_seas, 0), mk('OMP', a_omp, 0),
  mk('EAKF', b_eakf, 1), mk('EnOI', b_enoi, 1), mk('Seasonal EnOI', b_seas, 1), mk('OMP', b_omp, 1), mk('AVISO', aviso, 1),
  mk('EAKF', c_eakf, 2), mk('EnOI', c_enoi, 2), mk('Seasonal EnOI', c_seas, 2), mk('OMP', c_omp, 2),
  mk('EAKF', d_eakf, 3), mk('EnOI', d_enoi, 3), mk('Seasonal EnOI', d_seas, 3), mk('OMP', d_omp, 3), mk('AVISO', aviso, 3),
  mk('EAKF', e_eakf, 4), mk('EnOI', e_enoi, 4), mk('Seasonal EnOI', e_seas, 4), mk('OMP', e_omp, 4),
  mk('EAKF', f_eakf, 5), mk('EnOI', f_enoi, 5), mk('Seasonal EnOI', f_seas, 5), mk('OMP', f_omp, 5)
];

function txt(t, x, y, size) {
  return {type:'text', x, y, z:100, silent:true,
    style:{text:t, fontSize:size, fontWeight:'bold', fontFamily:FONT, fill:'#000', align:'left', verticalAlign:'middle'}};
}
function rtxt(parts, x, y, size) {
  return {type:'text', x, y, rotation: Math.PI/2, z:100, silent:true,
    style:{text: parts, align:'center', verticalAlign:'middle', fontFamily:FONT, fontWeight:'bold', fontSize:size, fill:AX,
      rich:{
        n:{fontSize:size, fontWeight:'bold', fontFamily:FONT, fill:AX},
        s:{fontSize:Math.round(size*0.62), fontWeight:'bold', fontFamily:FONT, fill:AX, verticalAlign:'top'}
      }}};
}
function ctxt(t, x, y, size, fill) {
  return {type:'text', x, y, z:100, silent:true,
    style:{text:t, fontSize:size, fontWeight:'bold', fontFamily:FONT, fill: fill || '#000', align:'center', verticalAlign:'middle'}};
}

const graphics = [
  ctxt('Sea Surface Temperature', 544, 77.5, 46),
  ctxt('Sea Surface Height', 1431, 77.5, 46),
  txt('(a) Forecast', 198.7, 177.2, 46),
  txt('(b) Forecast', 1084.7, 181.2, 46),
  txt('(c) Analysis', 198.7, 641.2, 46),
  txt('(d) Analysis', 1083, 646.2, 46),
  txt('(e) Spread', 198.7, 1106.2, 46),
  txt('(f) Spread', 1084, 1105.9, 46),
  rtxt('{n|SST RMSE (}{s|o}{n|C)}', 75, 306, 38),
  rtxt('{n|SST RMSE (}{s|o}{n|C)}', 75, 768, 38),
  rtxt('{n|Mean SST spread (}{s|o}{n|C)}', 106, 1235, 38),
  rtxt('{n|SSH RMSE (m)}', 938.5, 306, 38),
  rtxt('{n|SSH RMSE (m)}', 938.5, 768, 38),
  rtxt('{n|Mean SSH spread (m)}', 938.5, 1234, 38),
  ctxt('Days since Jan-01-2006', 544, 1507.5, 38, AX),
  ctxt('Days since Jan-01-2006', 1431, 1507.5, 38, AX)
];

const legendData = seriesNames.map(n => n === 'AVISO'
  ? {name:n, lineStyle:{width:OBSW, color:'#000'}, itemStyle:{opacity:0}}
  : {name:n, lineStyle:{width:LW, color:COLORS[n]}, itemStyle:{color:COLORS[n]}});

const option = {
  backgroundColor:'#ffffff',
  animation:false,
  grid: grids.map(g => Object.assign({containLabel:false, show:false}, g)),
  xAxis: xAxes,
  yAxis: yAxes,
  legend: {
    show:true, data: legendData, left:261, top:1527, orient:'horizontal',
    itemWidth:111, itemHeight:6, itemGap:20,
    padding:[8,14,20,23], borderColor:AX, borderWidth:1.5, backgroundColor:'#fff',
    selectedMode:false,
    textStyle:{fontSize:38, fontWeight:'bold', fontFamily:FONT, color:'#000', padding:[0,0,0,11]}
  },
  graphic: {elements: graphics},
  series
};

const chart = echarts.init(document.getElementById('c'), null, {renderer:'canvas', width:1793, height:1573});
chart.setOption(option);
</script></body></html>
